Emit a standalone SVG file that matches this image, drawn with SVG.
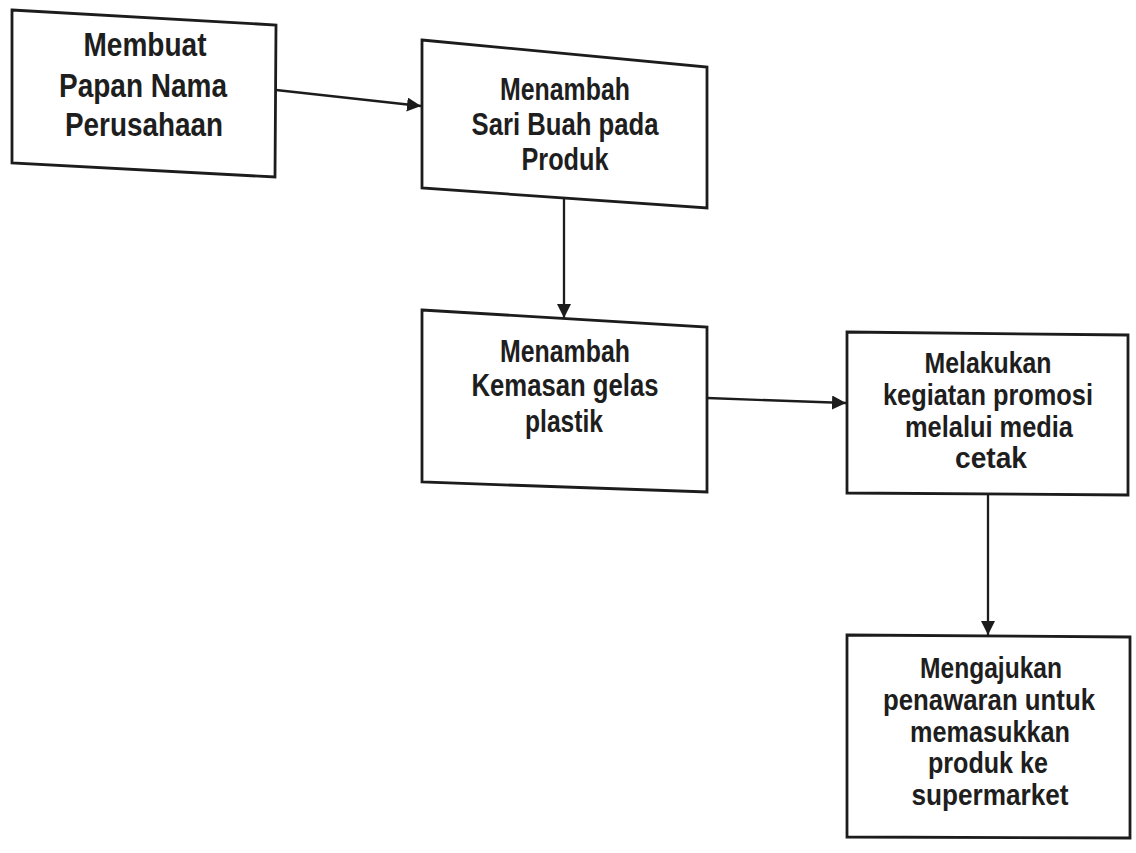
<svg xmlns="http://www.w3.org/2000/svg" width="1136" height="853" viewBox="0 0 1136 853">
<style>
.box{fill:#ffffff;stroke:#1c1c1c;stroke-width:2.8;stroke-linejoin:miter}
.t{font-family:"Liberation Sans Narrow","Liberation Sans",Arial,sans-serif;font-weight:bold;fill:#1e1e1e;text-anchor:middle}
.t32{font-size:34px}.t30{font-size:32px}.t28{font-size:30px}
.c{stroke:#1c1c1c;stroke-width:2.3;fill:none}
</style>
<defs>
<marker id="ah" markerUnits="userSpaceOnUse" markerWidth="15" markerHeight="15" refX="14" refY="7" orient="auto">
<path d="M0,0 L14,7 L0,14 z" fill="#1c1c1c"/>
</marker>
</defs>
<rect width="1136" height="853" fill="#ffffff"/>
<g id="connectors">
<line class="c" x1="276" y1="90" x2="421" y2="106" marker-end="url(#ah)"/>
<line class="c" x1="564" y1="198" x2="564" y2="318" marker-end="url(#ah)"/>
<line class="c" x1="707" y1="398" x2="846" y2="403" marker-end="url(#ah)"/>
<line class="c" x1="988" y1="494" x2="988" y2="635" marker-end="url(#ah)"/>
</g>
<g id="node1">
<polygon class="box" points="12,10 276,25 275,177 12,163"/>
<text class="t t32" x="145" y="56" textLength="123" lengthAdjust="spacingAndGlyphs">Membuat</text>
<text class="t t32" x="143" y="97" textLength="168" lengthAdjust="spacingAndGlyphs">Papan Nama</text>
<text class="t t32" x="144" y="136" textLength="158" lengthAdjust="spacingAndGlyphs">Perusahaan</text>
</g>
<g id="node2">
<polygon class="box" points="422,40 707,67 707,208 422,188"/>
<text class="t t30" x="565" y="100" textLength="130" lengthAdjust="spacingAndGlyphs">Menambah</text>
<text class="t t30" x="565" y="135" textLength="187" lengthAdjust="spacingAndGlyphs">Sari Buah pada</text>
<text class="t t30" x="565" y="170" textLength="87" lengthAdjust="spacingAndGlyphs">Produk</text>
</g>
<g id="node3">
<polygon class="box" points="422,310 707,327 707,492 422,482"/>
<text class="t t30" x="565" y="362" textLength="130" lengthAdjust="spacingAndGlyphs">Menambah</text>
<text class="t t30" x="565" y="396" textLength="187" lengthAdjust="spacingAndGlyphs">Kemasan gelas</text>
<text class="t t30" x="564" y="432" textLength="78" lengthAdjust="spacingAndGlyphs">plastik</text>
</g>
<g id="node4">
<polygon class="box" points="847,332 1128,335 1128,495 847,493"/>
<text class="t t28" x="988" y="373" textLength="127" lengthAdjust="spacingAndGlyphs">Melakukan</text>
<text class="t t28" x="988" y="405" textLength="210" lengthAdjust="spacingAndGlyphs">kegiatan promosi</text>
<text class="t t28" x="989" y="437" textLength="168" lengthAdjust="spacingAndGlyphs">melalui media</text>
<text class="t t28" x="991" y="468" textLength="72" lengthAdjust="spacingAndGlyphs">cetak</text>
</g>
<g id="node5">
<polygon class="box" points="847,635 1130,637 1130,838 847,837"/>
<text class="t t28" x="991" y="678" textLength="142" lengthAdjust="spacingAndGlyphs">Mengajukan</text>
<text class="t t28" x="989" y="710" textLength="212" lengthAdjust="spacingAndGlyphs">penawaran untuk</text>
<text class="t t28" x="990" y="742" textLength="160" lengthAdjust="spacingAndGlyphs">memasukkan</text>
<text class="t t28" x="988" y="773" textLength="120" lengthAdjust="spacingAndGlyphs">produk ke</text>
<text class="t t28" x="990" y="805" textLength="157" lengthAdjust="spacingAndGlyphs">supermarket</text>
</g>
</svg>
